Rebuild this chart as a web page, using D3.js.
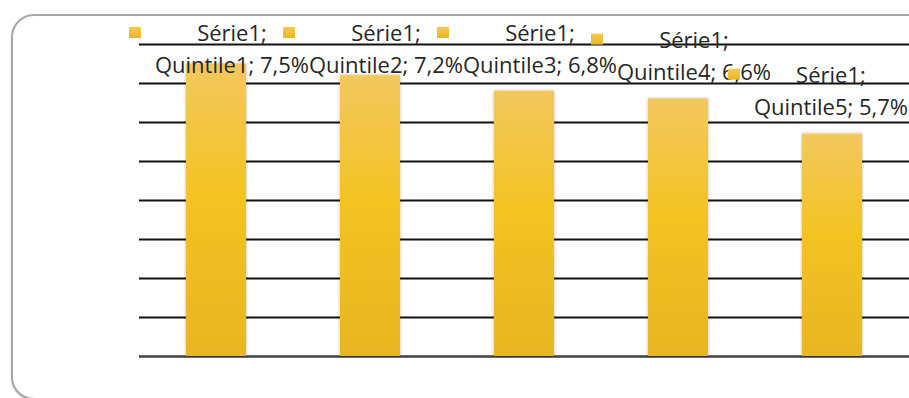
<!DOCTYPE html>
<html>
<head>
<meta charset="utf-8">
<script src="https://cdn.jsdelivr.net/npm/d3@7"></script>
<style>
  html, body { margin: 0; padding: 0; background: #ffffff; }
  svg { display: block; }
</style>
</head>
<body>
<script>
// Share per quintile, series "Série1"
const seriesName = "Série1";
const categories = ["Quintile1", "Quintile2", "Quintile3", "Quintile4", "Quintile5"];
const values = [7.5, 7.2, 6.8, 6.6, 5.7];
const gridTicks = [0, 1, 2, 3, 4, 5, 6, 7, 8];

const W = 909, H = 398;
const svg = d3.select("body").append("svg").attr("width", W).attr("height", H);
const defs = svg.append("defs");

// card frame shadow
const cardShadow = defs.append("filter").attr("id", "cardShadow")
  .attr("x", "-5%").attr("y", "-5%").attr("width", "110%").attr("height", "110%");
cardShadow.append("feGaussianBlur").attr("in", "SourceAlpha").attr("stdDeviation", 1.2).attr("result", "b");
cardShadow.append("feOffset").attr("in", "b").attr("dx", 0.5).attr("dy", 0.8).attr("result", "o");
cardShadow.append("feComponentTransfer").attr("in", "o").attr("result", "s")
  .append("feFuncA").attr("type", "linear").attr("slope", 0.35);
const cm = cardShadow.append("feMerge");
cm.append("feMergeNode").attr("in", "s");
cm.append("feMergeNode").attr("in", "SourceGraphic");

// soft halo round each bar
const barShadow = defs.append("filter").attr("id", "barShadow")
  .attr("x", "-20%").attr("y", "-5%").attr("width", "140%").attr("height", "110%");
barShadow.append("feGaussianBlur").attr("in", "SourceAlpha").attr("stdDeviation", 1.6).attr("result", "b");
barShadow.append("feComponentTransfer").attr("in", "b").attr("result", "s")
  .append("feFuncA").attr("type", "linear").attr("slope", 0.35);
const bm = barShadow.append("feMerge");
bm.append("feMergeNode").attr("in", "s");
bm.append("feMergeNode").attr("in", "SourceGraphic");

const grad = defs.append("linearGradient").attr("id", "barGrad")
  .attr("x1", 0).attr("y1", 0).attr("x2", 0).attr("y2", 1);
grad.append("stop").attr("offset", "0%").attr("stop-color", "#f2c85e");
grad.append("stop").attr("offset", "45%").attr("stop-color", "#f3c323");
grad.append("stop").attr("offset", "100%").attr("stop-color", "#e7b622");

const keyGrad = defs.append("linearGradient").attr("id", "keyGrad")
  .attr("x1", 0).attr("y1", 0).attr("x2", 0).attr("y2", 1);
keyGrad.append("stop").attr("offset", "0%").attr("stop-color", "#f3c94f");
keyGrad.append("stop").attr("offset", "100%").attr("stop-color", "#eab624");

// rounded card
svg.append("rect")
  .attr("x", 12).attr("y", 15)
  .attr("width", 920).attr("height", 384)
  .attr("rx", 22).attr("ry", 22)
  .attr("fill", "#ffffff")
  .attr("stroke", "#a6a6a6").attr("stroke-width", 2)
  .attr("filter", "url(#cardShadow)");

const x = d3.scaleBand()
  .domain(categories)
  .range([139, 909])
  .paddingInner(0.61)
  .paddingOuter(0.305);

const y = d3.scaleLinear().domain([0, 8]).range([356, 44]);

// horizontal gridlines
const yAxis = d3.axisLeft(y).tickValues(gridTicks)
  .tickSize(-(x.range()[1] - x.range()[0]))
  .tickFormat("");
const gAxis = svg.append("g").attr("transform", `translate(${x.range()[0]},0)`).call(yAxis);
gAxis.select(".domain").remove();
gAxis.selectAll(".tick line")
  .attr("stroke", d => d === 0 ? "#404040" : "#111111")
  .attr("stroke-width", d => d === 0 ? 2.6 : 2);

// bars
svg.append("g").selectAll("rect")
  .data(values)
  .join("rect")
  .attr("x", (d, i) => x(categories[i]))
  .attr("y", d => y(d))
  .attr("width", x.bandwidth())
  .attr("height", d => y(0) - y(d))
  .attr("fill", "url(#barGrad)")
  .attr("filter", "url(#barShadow)");

// data labels with legend key
const fmt = v => d3.format(".1f")(v).replace(".", ",") + "%";
const fontFamily = "'Open Sans', Lato, sans-serif";
const fontSize = 22;
const labels = svg.append("g")
  .attr("font-family", fontFamily)
  .attr("font-size", fontSize)
  .attr("fill", "#262626");

values.forEach((v, i) => {
  const cx = x(categories[i]) + x.bandwidth() / 2;
  let base2 = y(v) - 19;
  let base1 = base2 - 32;
  if (base1 < 41) { base1 = 41; base2 = base1 + 32; }
  const g = labels.append("g");
  const t1 = g.append("text").attr("text-anchor", "middle").attr("y", base1).text(seriesName + ";");
  const t2 = g.append("text").attr("text-anchor", "middle").attr("y", base2).text(`${categories[i]}; ${fmt(v)}`);
  let textCx = cx + 16;
  const w2 = t2.node().getComputedTextLength();
  const overflow = textCx + w2 / 2 - 908;
  if (overflow > 0) textCx -= overflow;
  t1.attr("x", textCx);
  t2.attr("x", textCx);
  const keyX = textCx - 103;
  g.append("rect")
    .attr("x", keyX).attr("y", base1 - 14)
    .attr("width", 12).attr("height", 11)
    .attr("fill", "url(#keyGrad)");
});
</script>
</body>
</html>
